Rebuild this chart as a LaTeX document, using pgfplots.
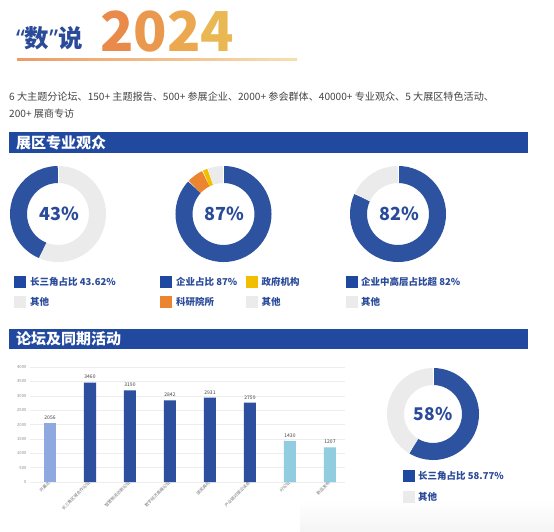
\documentclass[border=0pt]{standalone}
\usepackage{pgfplots}
\pgfplotsset{compat=1.18}
\usepackage{fontspec}
\setmainfont{Noto Sans CJK SC}
\newfontfamily\latinsans{Noto Sans}
\definecolor{hdr}{HTML}{2149A0}
\definecolor{dblue}{HTML}{2D52A0}
\definecolor{tblue}{HTML}{2A4A9A}
\definecolor{sqblue}{HTML}{1F48A0}
\definecolor{lgrey}{HTML}{EBEBEB}
\definecolor{orng}{HTML}{EC8530}
\definecolor{yel}{HTML}{F2BE00}
\definecolor{lblue}{HTML}{8EA9DF}
\definecolor{cyanb}{HTML}{92CCE0}
\definecolor{barblue}{HTML}{2C4F9E}
\definecolor{txt}{HTML}{444444}
\definecolor{ca}{HTML}{E98A4B}
\definecolor{cb}{HTML}{EA984D}
\definecolor{cc}{HTML}{EBA84F}
\definecolor{cd}{HTML}{E9B853}

% #1 cx, #2 cy, #3 mid radius, #4 ring width, #5 list value/colour (clockwise from top)
\newcommand{\donut}[5]{%
\begin{axis}[at={(#1pt,-#2pt)}, anchor=center, hide axis, scale only axis,
  width=100pt, height=100pt, xmin=-50, xmax=50, ymin=-50, ymax=50, clip=false]
\foreach \dv/\dcol [remember=\dend as \dstart (initially 0), evaluate=\dv as \dend using \dstart+\dv] in {#5} {
  \pgfmathsetmacro\dangA{90-3.6*\dstart}%
  \pgfmathsetmacro\dangB{90-3.6*\dend}%
  \edef\dtmp{\noexpand\draw[\dcol, line width=#4pt] (axis cs:0,0) ++(\dangA:#3pt) arc[start angle=\dangA, end angle=\dangB, radius=#3pt];
   \noexpand\draw[white, line width=0.7pt] (axis cs:0,0) ++(\dangB:{#3pt-#4pt/2-0.5pt}) -- ++(\dangB:{#4pt+1pt});}%
  \dtmp
}
\end{axis}}

% legend: #1 square x, #2 y centre, #3 colour, #4 text x, #5 text
\newcommand{\lgd}[5]{%
 \fill[#3] (#1pt,{-#2pt+6pt}) rectangle ({#1pt+12pt},{-#2pt-6pt});
 \node[anchor=west, inner sep=0, font=\fontsize{9.5}{10}\selectfont\bfseries, text=tblue] at (#4pt,-#2pt) {#5};}

\begin{document}
\begin{tikzpicture}
\path[use as bounding box] (0,0) rectangle (554pt,-532pt);
\fill[white] (0,0) rectangle (554pt,-532pt);
\shade[top color=white, bottom color=black!4] (300pt,-500pt) rectangle (554pt,-532pt);

% title
\node[anchor=base west, inner sep=0, text=tblue, font=\fontsize{24.5}{25}\selectfont\bfseries] at (16pt,-48pt) {{\latinsans\bfseries “}数{\latinsans\bfseries ”}说};
\node[anchor=base west, inner sep=0, font=\fontsize{55}{55}\selectfont\bfseries] at (100pt,-52pt) {\textcolor{ca}{2}\textcolor{cb}{0}\textcolor{cc}{2}\textcolor{cd}{4}};
\shade[left color=ca!85, right color=cd!45] (17pt,-59pt) rectangle (297pt,-60.2pt);

\node[anchor=base west, inner sep=0, text=txt, font=\fontsize{10.1}{12}\selectfont] at (9pt,-100.5pt) {6 大主题分论坛、150+ 主题报告、500+ 参展企业、2000+ 参会群体、40000+ 专业观众、5 大展区特色活动、};
\node[anchor=base west, inner sep=0, text=txt, font=\fontsize{10.1}{12}\selectfont] at (9pt,-118pt) {200+ 展商专访};

% headers
\fill[hdr] (9pt,-132.5pt) rectangle (528pt,-153pt);
\node[anchor=west, inner sep=0, text=white, font=\fontsize{15}{15}\selectfont\bfseries] at (16pt,-142.8pt) {展区专业观众};
\fill[hdr] (9pt,-328.5pt) rectangle (528pt,-349pt);
\node[anchor=west, inner sep=0, text=white, font=\fontsize{15}{15}\selectfont\bfseries] at (16pt,-338.8pt) {论坛及同期活动};

% donuts row 1
\donut{58}{214}{39.5}{17}{56.38/lgrey, 43.62/dblue}
\donut{223.5}{214}{39.5}{17}{87/dblue, 5.8/orng, 1.9/yel, 5.3/lgrey}
\donut{398}{214}{39.5}{17}{82/dblue, 18/lgrey}
\node[font=\fontsize{18}{18}\selectfont\bfseries, text=tblue] at (59pt,-214pt) {43\%};
\node[font=\fontsize{18}{18}\selectfont\bfseries, text=tblue] at (224.5pt,-214pt) {87\%};
\node[font=\fontsize{18}{18}\selectfont\bfseries, text=tblue] at (399pt,-214pt) {82\%};

% legends row 1
\lgd{14}{281.5}{sqblue}{30}{长三角占比 43.62\%}
\lgd{14}{301.5}{lgrey}{30}{其他}
\lgd{160}{281.5}{sqblue}{176}{企业占比 87\%}
\lgd{245.5}{281.5}{yel}{261.5}{政府机构}
\lgd{160}{301.5}{orng}{176}{科研院所}
\lgd{245.5}{301.5}{lgrey}{261.5}{其他}
\lgd{345.5}{281.5}{sqblue}{361}{企业中高层占比超 82\%}
\lgd{345.5}{301.5}{lgrey}{361}{其他}

% bar chart
\begin{axis}[at={(30pt,-482pt)}, anchor=south west, scale only axis,
  width=315pt, height=115pt, xmin=-0.5, xmax=7.375, ymin=0, ymax=4000,
  axis line style={draw=none}, major tick length=0pt,
  ytick={0,500,...,4000}, ymajorgrids, grid style={draw=black!7, line width=0.5pt},
  xtick={0,...,7},
  xticklabels={开幕式,长三角区域合作论坛,智慧物流创新论坛,数字经济高峰论坛,颁奖典礼,产业链对接洽谈会,分论坛,新品发布},
  yticklabel style={font=\fontsize{4.2}{5}\selectfont, text=black!45},
  xticklabel style={font=\fontsize{4.2}{5}\selectfont, text=black!55, rotate=45, anchor=east, inner sep=1pt},
  /pgf/number format/assume math mode=true, /pgf/number format/1000 sep={},
  nodes near coords, nodes near coords style={font=\fontsize{5}{6}\selectfont, text=black!75},
  ybar, bar width=12pt, bar shift=0pt, clip=false]
\addplot[fill=lblue, draw=none] coordinates {(0,2056)};
\addplot[fill=barblue, draw=none] coordinates {(1,3460)(2,3190)(3,2842)(4,2931)(5,2759)};
\addplot[fill=cyanb, draw=none] coordinates {(6,1430)(7,1207)};
\end{axis}

% donut 4
\donut{433}{414}{37.5}{17}{58.77/dblue, 41.23/lgrey}
\node[font=\fontsize{17.5}{18}\selectfont\bfseries, text=tblue] at (433pt,-414pt) {58\%};
\lgd{403}{476}{sqblue}{418}{长三角占比 58.77\%}
\lgd{403}{497}{lgrey}{418}{其他}
\end{tikzpicture}
\end{document}
